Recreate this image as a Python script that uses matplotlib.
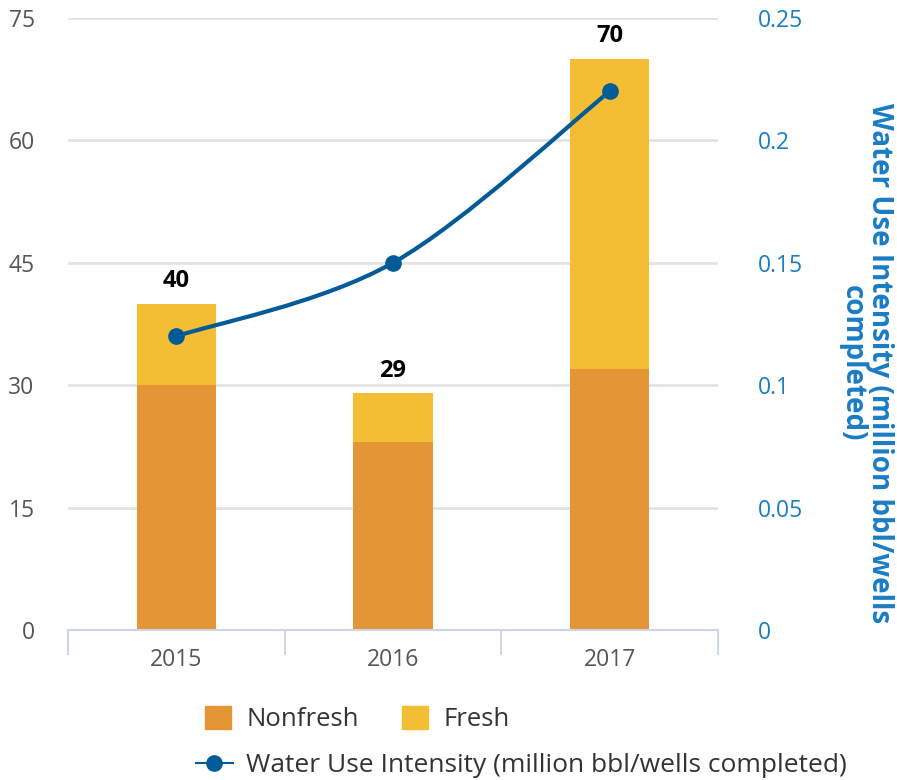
import matplotlib
matplotlib.use("Agg")
import matplotlib.pyplot as plt
from matplotlib.path import Path
from matplotlib.patches import PathPatch, Patch
from matplotlib.lines import Line2D
import numpy as np

plt.rcParams['font.family'] = ['Open Sans', 'DejaVu Sans']

years = ['2015', '2016', '2017']
nonfresh = [30, 23, 32]
fresh = [10, 6, 38]
totals = [40, 29, 70]
intensity = [0.12, 0.15, 0.22]

c_nonfresh = '#E49535'
c_fresh = '#F3BE33'
c_line = '#005B96'
c_right = '#1A7CC4'
c_tick = '#555555'

fig = plt.figure(figsize=(8.97, 7.8), dpi=100)
ax = fig.add_axes([68 / 897, 150 / 780, 650 / 897, 612 / 780])
x = np.arange(len(years))

ax.bar(x, nonfresh, width=0.365, color=c_nonfresh, zorder=2)
ax.bar(x, fresh, width=0.365, bottom=nonfresh, color=c_fresh, zorder=2)
for xi, t in zip(x, totals):
    ax.text(xi, t + 1.3, str(t), ha='center', va='bottom', fontsize=17,
            fontweight='bold', color='black')

ax.set_xlim(-0.5, 2.5)
ax.set_ylim(0, 75)
ax.set_yticks([0, 15, 30, 45, 60, 75])
ax.yaxis.grid(True, color='#e3e3e3', linewidth=2, zorder=0)
ax.set_axisbelow(True)
ax.tick_params(axis='y', length=0, pad=24, labelsize=16.5, labelcolor=c_tick)
ax.set_xticks(x)
ax.set_xticklabels(years)
ax.tick_params(axis='x', which='major', length=0, pad=13, labelsize=16.5,
               labelcolor=c_tick)
ax.set_xticks([-0.5, 0.5, 1.5, 2.5], minor=True)
ax.tick_params(axis='x', which='minor', length=18, width=1.5, color='#cdd5e6',
               direction='out')
for s in ['top', 'left', 'right']:
    ax.spines[s].set_visible(False)
ax.spines['bottom'].set_color('#cdd5e6')
ax.spines['bottom'].set_linewidth(1.5)

ax2 = ax.twinx()
ax2.set_ylim(0, 0.25)
ax2.set_yticks([0, 0.05, 0.1, 0.15, 0.2, 0.25])
ax2.set_yticklabels(['0', '0.05', '0.1', '0.15', '0.2', '0.25'])
ax2.tick_params(axis='y', length=0, pad=29, labelsize=16.5, labelcolor=c_right)
for s in ax2.spines.values():
    s.set_visible(False)

# right axis title, sits a bit below the axis centre like the original
fig.text(866 / 897, 1 - 363 / 780,
         'Water Use Intensity (million bbl/wells\ncompleted)',
         rotation=270, ha='center', va='center', multialignment='center',
         color=c_right, fontsize=20, fontweight='bold', linespacing=0.95)

# smooth curve through the points (Catmull-Rom as cubic Bezier segments)
pts = np.column_stack([x, intensity]).astype(float)
verts = [pts[0]]
codes = [Path.MOVETO]
n = len(pts)
for i in range(n - 1):
    p0 = pts[i - 1] if i > 0 else pts[i]
    p1, p2 = pts[i], pts[i + 1]
    p3 = pts[i + 2] if i + 2 < n else pts[i + 1]
    c1 = p1 + (p2 - p0) / 6
    c2 = p2 - (p3 - p1) / 6
    verts += [c1, c2, p2]
    codes += [Path.CURVE4] * 3
ax2.add_patch(PathPatch(Path(verts, codes), facecolor='none',
                        edgecolor=c_line, linewidth=3, zorder=3))
ax2.plot(x, intensity, 'o', color=c_line, markersize=11, zorder=4)

h1 = [Patch(color=c_nonfresh), Patch(color=c_fresh)]
fig.legend(h1, ['Nonfresh', 'Fresh'], loc='center left',
           bbox_to_anchor=(182 / 897, 1 - 719 / 780), ncol=2, frameon=False,
           fontsize=18.5, handlelength=1.0, handleheight=1.0, handletextpad=0.6,
           columnspacing=1.7, labelcolor='#333333')
h2 = [Line2D([0], [0], color=c_line, marker='o', markersize=11, linewidth=1.5)]
fig.legend(h2, ['Water Use Intensity (million bbl/wells completed)'],
           loc='center left', bbox_to_anchor=(172 / 897, 1 - 766 / 780),
           frameon=False, fontsize=19, handlelength=1.4, handletextpad=0.5,
           labelcolor='#333333')

fig.savefig('out.png', dpi=100)
